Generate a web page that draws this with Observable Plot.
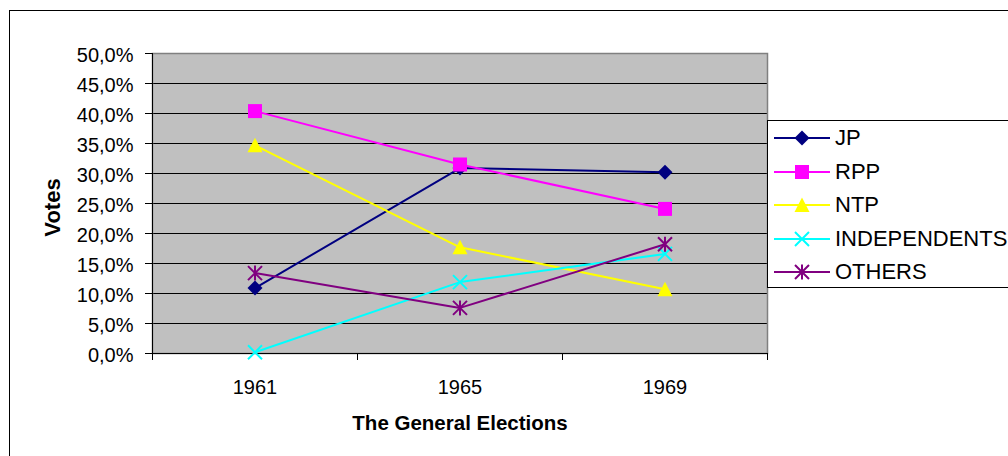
<!DOCTYPE html>
<html><head><meta charset="utf-8">
<script src="https://cdn.jsdelivr.net/npm/d3@7"></script>
<script src="https://cdn.jsdelivr.net/npm/@observablehq/plot@0.6"></script>
<style>
html,body{margin:0;padding:0;background:#fff;overflow:hidden;}
#wrap{position:relative;width:1008px;height:456px;overflow:hidden;font-family:Arial,"Liberation Sans",sans-serif;}
#wrap svg.main{position:absolute;left:0;top:0;}
#border{position:absolute;left:9px;top:10px;width:1100px;height:600px;border:1px solid #000;pointer-events:none;}
#legend{position:absolute;left:767px;top:120px;width:300px;height:166px;border:1px solid #000;background:#fff;}
.item{position:absolute;left:0;height:34px;display:flex;align-items:center;}
.item svg{margin-left:6px;display:block;}
.item span{margin-left:5px;font-size:22px;color:#000;line-height:34px;white-space:nowrap;}
</style></head><body><div id="wrap"></div>
<script>
// ---- data ----
const years = ["1961", "1965", "1969"];
const parties = ["JP", "RPP", "NTP", "INDEPENDENTS", "OTHERS"];
const jp = [10.9, 30.9, 30.2];
const rpp = [40.4, 31.5, 24.1];
const ntp = [34.7, 17.7, 10.7];
const independents = [0.2, 11.9, 16.6];
const others = [13.4, 7.6, 18.2];
const yTicks = [0, 5, 10, 15, 20, 25, 30, 35, 40, 45, 50];
const xTitle = "The General Elections";
const yTitle = "Votes";

const seriesValues = [jp, rpp, ntp, independents, others];

// ---- styles ----
const symDiamond = {draw(c){c.moveTo(0,-7.5);c.lineTo(7.5,0);c.lineTo(0,7.5);c.lineTo(-7.5,0);c.closePath();}};
const symSquare = {draw(c){c.moveTo(-7,-7);c.lineTo(7,-7);c.lineTo(7,7);c.lineTo(-7,7);c.closePath();}};
const symTriangle = {draw(c){c.moveTo(0,-7.5);c.lineTo(7.5,7);c.lineTo(-7.5,7);c.closePath();}};
const symTimes = {draw(c){c.moveTo(-7,-7);c.lineTo(7,7);c.moveTo(7,-7);c.lineTo(-7,7);}};
const symStar = {draw(c){c.moveTo(-7,-7);c.lineTo(7,7);c.moveTo(7,-7);c.lineTo(-7,7);c.moveTo(0,-7.5);c.lineTo(0,7.5);}};
const styles = [
  {color:"#000080", symbol:symDiamond, filled:true},
  {color:"#FF00FF", symbol:symSquare, filled:true},
  {color:"#FFFF00", symbol:symTriangle, filled:true},
  {color:"#00FFFF", symbol:symTimes, filled:false},
  {color:"#800080", symbol:symStar, filled:false}
];

const rows = parties.flatMap((p, k) => years.map((y, i) => ({party: p, year: y, xi: i + 0.5, value: seriesValues[k][i]})));

const seriesMarks = parties.flatMap((p, k) => {
  const d = rows.filter(r => r.party === p);
  const s = styles[k];
  return [
    Plot.line(d, {x: "xi", y: "value", stroke: s.color, strokeWidth: 2}),
    Plot.dot(d, {x: "xi", y: "value", symbol: s.symbol, r: 7,
      fill: s.filled ? s.color : "none", stroke: s.filled ? "none" : s.color, strokeWidth: s.filled ? 0 : 2})
  ];
});

const fmt = v => v.toFixed(1).replace(".", ",") + "%";

const chart = Plot.plot({
  width: 1008, height: 456,
  marginLeft: 152, marginRight: 241, marginTop: 53, marginBottom: 103,
  style: {fontFamily: 'Arial, "Liberation Sans", sans-serif', fontSize: "20px", color: "#000", background: "transparent", overflow: "visible"},
  x: {domain: [0, years.length], axis: null},
  y: {domain: [0, 50], axis: null},
  marks: [
    Plot.frame({fill: "#C0C0C0", stroke: "none"}),
    Plot.ruleY(yTicks.filter(v => v > 0 && v < 50), {stroke: "#000", strokeWidth: 1}),
    Plot.frame({stroke: "#808080", strokeWidth: 1.5, fill: "none"}),
    Plot.ruleX([0], {stroke: "#000", strokeWidth: 1}),
    Plot.ruleY([0], {stroke: "#000", strokeWidth: 1}),
    Plot.axisY({ticks: yTicks, tickSize: 7, tickFormat: () => "", label: null}),
    Plot.axisY({ticks: yTicks, tickSize: 0, tickPadding: 19, dy: 2, tickFormat: fmt, label: null, fontSize: 20}),
    Plot.axisX({ticks: d3.range(years.length + 1), tickSize: 7, tickFormat: () => "", label: null}),
    Plot.axisX({ticks: years.map((d, i) => i + 0.5), tickSize: 0, tickPadding: 26, tickFormat: v => years[Math.round(v - 0.5)], label: null, fontSize: 20}),
    Plot.text([yTitle], {text: d => d, frameAnchor: "left", rotate: -90, dx: -100, dy: 4, fontWeight: "bold", fontSize: 22, textAnchor: "middle", lineAnchor: "middle"}),
    Plot.text([xTitle], {text: d => d, frameAnchor: "bottom", dy: 70, fontWeight: "bold", fontSize: 20.5, textAnchor: "middle", lineAnchor: "middle"}),
    ...seriesMarks
  ]
});
chart.classList.add("main");

const wrap = document.getElementById("wrap");
wrap.appendChild(chart);
const border = document.createElement("div");
border.id = "border";
wrap.appendChild(border);

// ---- legend ----
const legend = document.createElement("div");
legend.id = "legend";
parties.forEach((p, k) => {
  const s = styles[k];
  const item = document.createElement("div");
  item.className = "item";
  item.style.top = (k * 33.5) + "px";
  const svg = d3.create("svg").attr("width", 56).attr("height", 16);
  svg.append("line").attr("x1", 0).attr("x2", 56).attr("y1", 8).attr("y2", 8).attr("stroke", s.color).attr("stroke-width", 2);
  const path = d3.path();
  s.symbol.draw(path);
  svg.append("path").attr("transform", "translate(28,8)").attr("d", path.toString())
    .attr("fill", s.filled ? s.color : "none").attr("stroke", s.filled ? "none" : s.color).attr("stroke-width", 2);
  item.appendChild(svg.node());
  const span = document.createElement("span");
  span.textContent = p;
  item.appendChild(span);
  legend.appendChild(item);
});
wrap.appendChild(legend);
</script></body></html>
